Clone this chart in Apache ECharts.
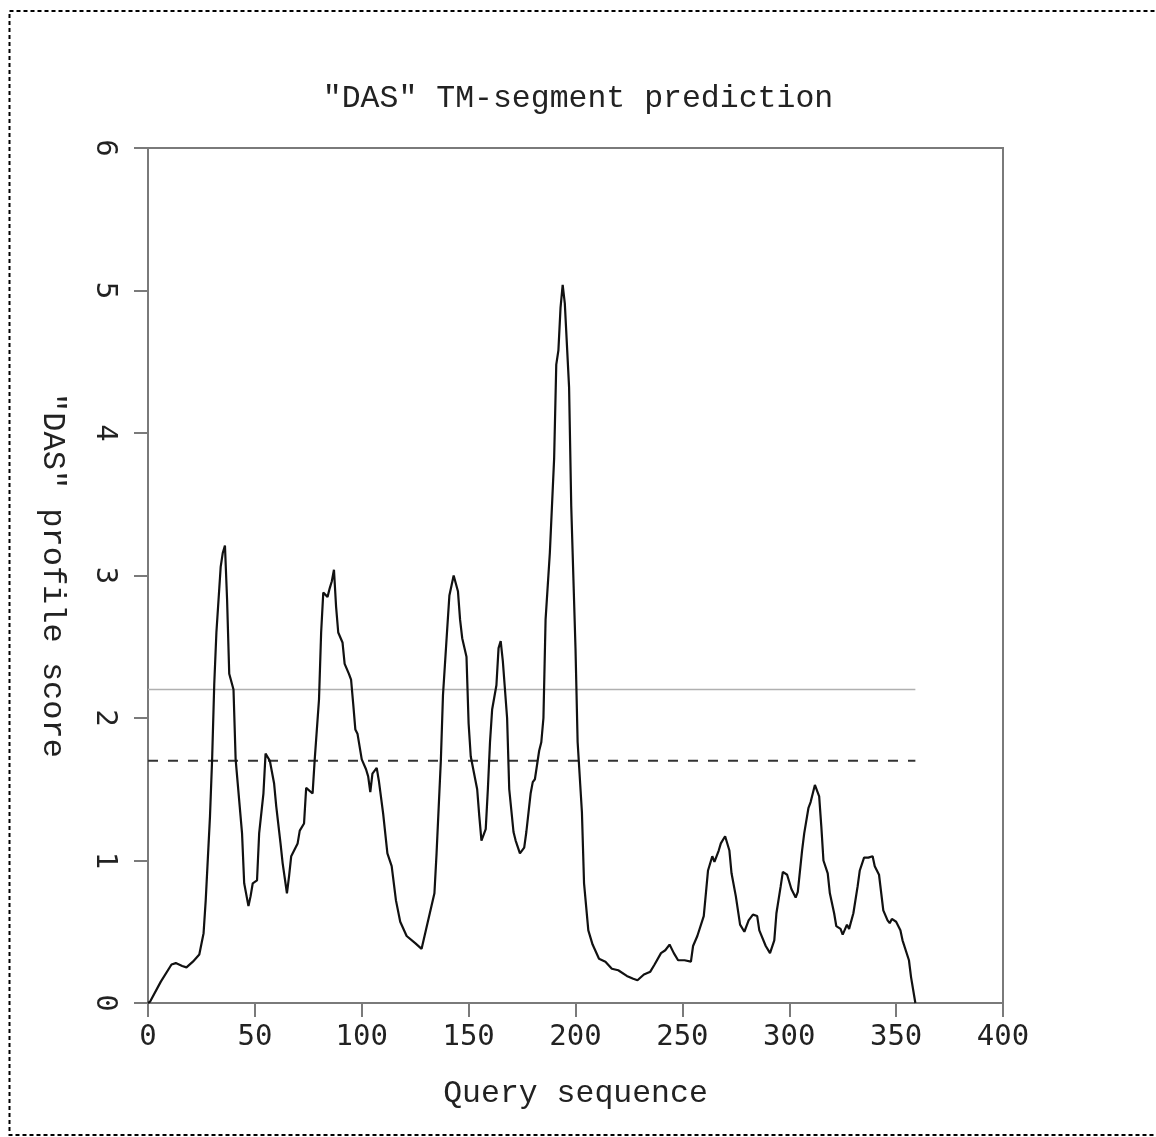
<!DOCTYPE html>
<html>
<head>
<meta charset="utf-8">
<script src="https://cdn.jsdelivr.net/npm/echarts@6/dist/echarts.min.js"></script>
<style>
html,body{margin:0;padding:0;background:#fff;}
#chart{width:1156px;height:1137px;}
</style>
</head>
<body>
<div id="chart"></div>
<script>
// Query sequence positions and DAS profile scores
const positions = [0,1,6,11,13,16,18,21,24,26,27,29,30,31,32,34,35,36,37,38,40,41,44,45,47,48,49,51,52,54,55,57,59,60,62,63,65,66,67,70,71,73,74,77,78,80,81,82,84,85,86,87,88,89,91,92,94,95,96,97,98,100,102,103,104,105,107,108,110,112,114,116,118,121,125,128,130,134,135,137,138,140,141,142,143,145,146,147,149,150,151,154,155,156,158,159,160,161,163,164,165,166,168,169,171,172,174,176,177,179,180,181,183,184,185,186,188,190,191,192,193,194,195,197,198,200,201,203,204,206,208,211,214,217,220,224,227,229,232,235,237,240,242,244,246,248,251,254,255,257,260,261,262,264,265,267,268,270,272,273,275,277,279,281,283,285,286,289,291,293,294,296,297,299,301,303,304,306,307,309,310,312,314,315,316,318,319,321,322,324,325,327,328,330,332,333,335,337,339,340,342,344,346,347,348,350,352,353,356,357,359];
const scores = [0,0.01,0.15,0.27,0.28,0.26,0.25,0.29,0.34,0.49,0.72,1.31,1.71,2.24,2.6,3.06,3.16,3.21,2.83,2.31,2.2,1.71,1.19,0.84,0.68,0.75,0.84,0.86,1.19,1.47,1.75,1.70,1.54,1.38,1.12,0.98,0.77,0.89,1.03,1.12,1.21,1.26,1.51,1.47,1.71,2.13,2.6,2.88,2.85,2.91,2.96,3.04,2.78,2.6,2.53,2.38,2.31,2.27,2.1,1.92,1.89,1.71,1.64,1.59,1.48,1.61,1.65,1.56,1.33,1.05,0.96,0.72,0.57,0.47,0.42,0.38,0.51,0.77,1.05,1.7,2.16,2.63,2.86,2.93,3.0,2.89,2.69,2.56,2.43,1.96,1.73,1.5,1.31,1.14,1.22,1.5,1.83,2.06,2.23,2.49,2.54,2.4,2.0,1.5,1.2,1.14,1.05,1.09,1.2,1.47,1.55,1.57,1.77,1.83,2.0,2.69,3.16,3.82,4.48,4.58,4.88,5.04,4.91,4.32,3.49,2.49,1.83,1.34,0.84,0.51,0.41,0.31,0.29,0.24,0.23,0.19,0.17,0.16,0.20,0.22,0.27,0.35,0.37,0.41,0.35,0.30,0.30,0.29,0.40,0.47,0.61,0.77,0.93,1.03,0.99,1.07,1.12,1.17,1.07,0.91,0.75,0.55,0.50,0.58,0.62,0.61,0.51,0.40,0.35,0.44,0.63,0.82,0.92,0.90,0.80,0.74,0.78,1.07,1.19,1.37,1.41,1.53,1.45,1.24,1.0,0.91,0.77,0.63,0.54,0.52,0.48,0.55,0.52,0.63,0.82,0.93,1.02,1.02,1.03,0.96,0.90,0.65,0.58,0.56,0.59,0.57,0.51,0.44,0.30,0.18,0];

// Cutoff lines
const strictCutoff = 2.2;
const looseCutoff = 1.7;
const cutoffRange = [0, 359];

// Axis ticks
const xTicks = [0, 50, 100, 150, 200, 250, 300, 350, 400];
const yTicks = [0, 1, 2, 3, 4, 5, 6];

const curve = positions.map((p, i) => [p, scores[i]]);
const strictLine = cutoffRange.map(x => [x, strictCutoff]);
const looseLine = cutoffRange.map(x => [x, looseCutoff]);

const axisGray = '#7a7a7a';
const chart = echarts.init(document.getElementById('chart'), null, {renderer: 'canvas'});
chart.setOption({
  backgroundColor: '#ffffff',
  animation: false,
  title: {
    text: '"DAS" TM-segment prediction',
    left: 'center',
    top: 78,
    textStyle: {fontFamily: 'Liberation Mono', fontSize: 31.5, fontWeight: 'normal', color: '#222'}
  },
  graphic: [{
    type: 'rect',
    shape: {x: 9.5, y: 11, width: 1200, height: 1124},
    style: {fill: 'none', stroke: '#000', lineWidth: 2, lineDash: [4, 3]},
    silent: true
  }],
  grid: {
    left: 148, top: 148, right: 153, bottom: 134,
    show: true, borderColor: axisGray, borderWidth: 2, backgroundColor: 'transparent'
  },
  xAxis: {
    type: 'value',
    min: xTicks[0], max: xTicks[xTicks.length - 1], interval: 50,
    name: 'Query sequence',
    nameLocation: 'middle', nameGap: 75,
    nameTextStyle: {fontFamily: 'Liberation Mono', fontSize: 31.5, color: '#222'},
    axisLine: {show: true, lineStyle: {color: axisGray, width: 2}},
    axisTick: {show: true, inside: false, length: 14, lineStyle: {color: axisGray, width: 2}},
    axisLabel: {margin: 20, fontFamily: 'DejaVu Sans Mono', fontSize: 29, color: '#222'},
    splitLine: {show: false}
  },
  yAxis: {
    type: 'value',
    min: yTicks[0], max: yTicks[yTicks.length - 1], interval: 1,
    name: '"DAS" profile score',
    nameLocation: 'middle', nameGap: 80, nameRotate: -90,
    nameTextStyle: {fontFamily: 'Liberation Mono', fontSize: 32, color: '#222'},
    axisLine: {show: true, lineStyle: {color: axisGray, width: 2}},
    axisTick: {show: true, inside: false, length: 14, lineStyle: {color: axisGray, width: 2}},
    axisLabel: {margin: 29, rotate: -90, fontFamily: 'DejaVu Sans Mono', fontSize: 29, color: '#222'},
    splitLine: {show: false}
  },
  series: [
    {
      type: 'line', data: strictLine, symbol: 'none', silent: true,
      lineStyle: {color: '#b0b0b0', width: 1.5}
    },
    {
      type: 'line', data: looseLine, symbol: 'none', silent: true,
      lineStyle: {color: '#333', width: 2, type: [10, 10]}
    },
    {
      type: 'line', data: curve, symbol: 'none', silent: true,
      lineStyle: {color: '#111', width: 2.2}
    }
  ]
});
</script>
</body>
</html>
